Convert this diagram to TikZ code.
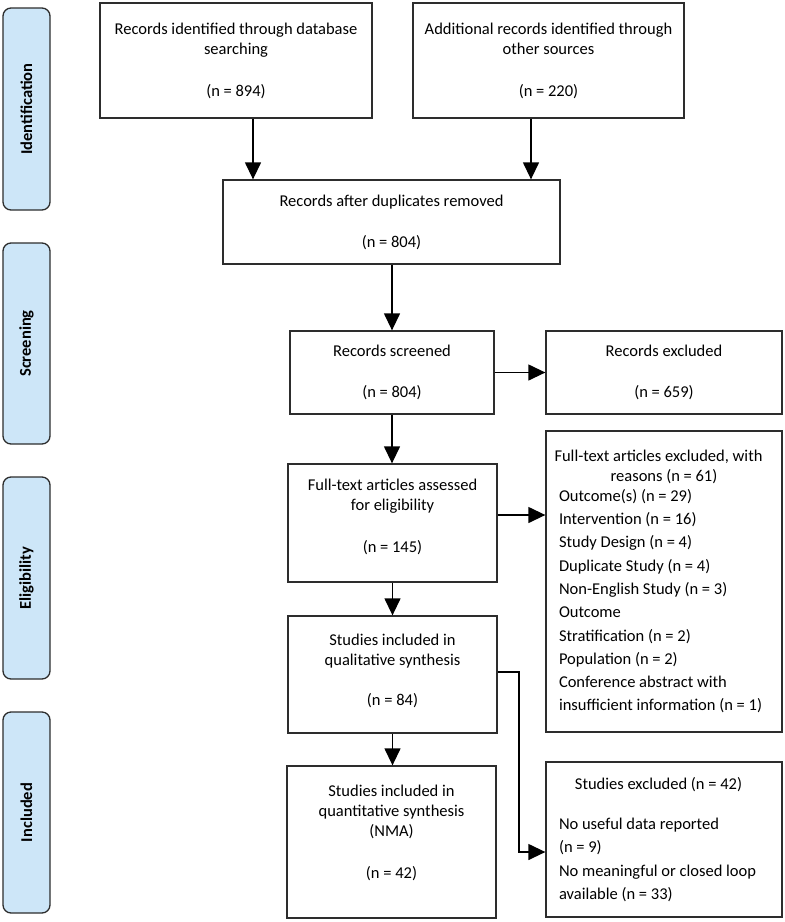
\documentclass[tikz,border=0pt]{standalone}
\usepackage{fontspec}
\setmainfont{Carlito}
\usetikzlibrary{arrows.meta,calc}
\definecolor{sidefill}{RGB}{205,230,248}
\definecolor{edge}{RGB}{45,45,45}
\begin{document}
\begin{tikzpicture}[x=1pt,y=-1pt,
  box/.style={draw=edge, line width=1.3pt, align=center, inner sep=0pt, font=\fontsize{16.5}{20}\selectfont},
  side/.style={draw=edge, line width=1.3pt, fill=sidefill, rounded corners=8pt, rotate=90, minimum height=47pt, font=\fontsize{16.5}{18}\selectfont\bfseries, inner sep=0pt},
  arr/.style={line width=1.3pt, -{Triangle[width=16pt,length=17pt]}}
]
\useasboundingbox (0,0) rectangle (785,922);
% side labels
\node[side, minimum width=202pt] (sid) at (26.5,109) {Identification};
\node[side, minimum width=201pt] (ssc) at (26.5,343.5) {Screening};
\node[side, minimum width=202pt] (sel) at (26.5,578) {Eligibility};
\node[side, minimum width=201pt] (sin) at (26.5,812.5) {Included};
% boxes
\node[box, minimum width=272pt, minimum height=115pt] (db) at (236,60.5) {Records identified through database\\searching\\[22pt](n = 894)};
\node[box, minimum width=271pt, minimum height=115pt] (oth) at (548.5,60.5) {Additional records identified through\\other sources\\[22pt](n = 220)};
\node[box, minimum width=337pt, minimum height=84pt] (dup) at (391.5,222) {Records after duplicates removed\\[21pt](n = 804)};
\node[box, minimum width=204pt, minimum height=83pt] (scr) at (392,372.5) {Records screened\\[21pt](n = 804)};
\node[box, minimum width=236pt, minimum height=83pt] (rex) at (664,372.5) {Records excluded\\[21pt](n = 659)};
\node[box, minimum width=209pt, minimum height=118pt] (ft) at (392.5,523) {Full-text articles assessed\\for eligibility\\[22pt](n = 145)\\[-6pt]~};
\node[box, minimum width=236pt, minimum height=301pt] (ftx) at (664,581.5) {\begin{minipage}{228pt}\centering\hspace*{-11pt}Full-text articles excluded, with\\reasons (n = 61)\par\vspace{-3.3pt}\raggedright\leftskip=9pt\fontsize{16.5}{23.3}\selectfont Outcome(s) (n = 29)\\Intervention (n = 16)\\Study Design (n = 4)\\Duplicate Study (n = 4)\\Non-English Study (n = 3)\\Outcome\\Stratification (n = 2)\\Population (n = 2)\\Conference abstract with\\insufficient information (n = 1)\end{minipage}};
\node[box, minimum width=209pt, minimum height=117pt] (qual) at (392.5,674.5) {Studies included in\\qualitative synthesis\\[20pt](n = 84)\\[-10pt]~};
\node[box, minimum width=209pt, minimum height=152pt] (quant) at (391.5,842) {Studies included in\\quantitative synthesis\\(NMA)\\[22pt](n = 42)\\~};
\node[box, minimum width=236pt, minimum height=155pt] (sx) at (664,839.5) {\begin{minipage}{228pt}\centering\hspace*{-11pt}Studies excluded (n = 42)\par\vspace{17pt}\raggedright\leftskip=9pt\fontsize{16.5}{23.3}\selectfont No useful data reported\\(n = 9)\\No meaningful or closed loop\\available (n = 33)\end{minipage}};
% connectors
\draw[arr] ([xshift=17pt]db.south) -- ([xshift=17pt]db.south |- dup.north);
\draw[arr] ([xshift=-17.5pt]oth.south) -- ([xshift=-17.5pt]oth.south |- dup.north);
\draw[arr] (dup.south -| scr.north) -- (scr.north);
\draw[arr] (scr.east) -- (scr.east -| rex.west);
\draw[arr] (scr.south) -- (scr.south |- ft.north);
\draw[arr] ([yshift=8pt]ft.east) -- ([yshift=8pt]ft.east -| ftx.west);
\draw[arr] (ft.south) -- (ft.south |- qual.north);
\draw[arr] (qual.south) -- (qual.south |- quant.north);
\coordinate (bend) at (519,852);
\draw[arr] ([yshift=2.5pt]qual.east) -| (bend) -- (bend -| sx.west);
\end{tikzpicture}
\end{document}
